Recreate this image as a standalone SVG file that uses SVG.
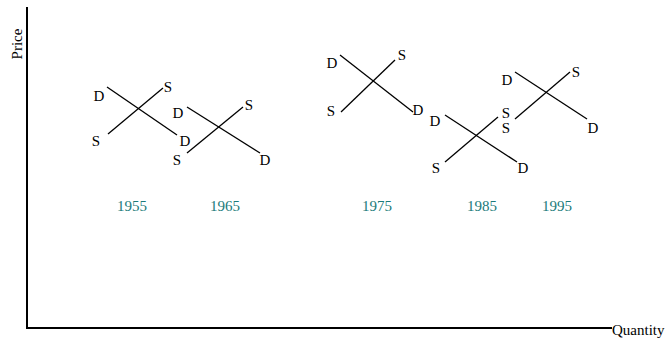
<svg xmlns="http://www.w3.org/2000/svg" width="667" height="343" viewBox="0 0 667 343">
<style>
text{font-family:"Liberation Serif","Times New Roman",serif;font-size:15px;fill:#000}
.lbl{text-anchor:middle}
.yr{text-anchor:middle;fill:#1a7a7a}
.ax{stroke:#000;stroke-width:2;fill:none}
.c{stroke:#000;stroke-width:1.3;fill:none}
</style>
<rect width="667" height="343" fill="#fff"/>
<g id="axes">
<path class="ax" d="M27,7 V328 H612"/>
<text x="612" y="335">Quantity</text>
<text class="lbl" transform="translate(22,44) rotate(-90)">Price</text>
</g>
<g id="connectors">
<line class="c" x1="107" y1="87" x2="177" y2="135"/>
<line class="c" x1="108" y1="134" x2="163" y2="88"/>
<line class="c" x1="187" y1="107" x2="260" y2="153"/>
<line class="c" x1="187" y1="153" x2="243" y2="107"/>
<line class="c" x1="340" y1="55" x2="413" y2="112"/>
<line class="c" x1="341" y1="112" x2="395" y2="60"/>
<line class="c" x1="445" y1="115" x2="517" y2="162"/>
<line class="c" x1="445" y1="162" x2="498" y2="117"/>
<line class="c" x1="515" y1="72" x2="587" y2="119"/>
<line class="c" x1="515" y1="119" x2="570" y2="72"/>
</g>
<g id="n1955">
<text class="lbl" x="99" y="101">D</text>
<text class="lbl" x="168" y="92">S</text>
<text class="lbl" x="96" y="146">S</text>
<text class="lbl" x="185" y="146">D</text>
<text class="yr" x="132" y="211">1955</text>
</g>
<g id="n1965">
<text class="lbl" x="178" y="118">D</text>
<text class="lbl" x="249" y="110">S</text>
<text class="lbl" x="177" y="165">S</text>
<text class="lbl" x="265" y="165">D</text>
<text class="yr" x="225" y="211">1965</text>
</g>
<g id="n1975">
<text class="lbl" x="332" y="68">D</text>
<text class="lbl" x="402" y="60">S</text>
<text class="lbl" x="331" y="116">S</text>
<text class="lbl" x="418" y="115">D</text>
<text class="yr" x="377" y="211">1975</text>
</g>
<g id="n1985">
<text class="lbl" x="435" y="126">D</text>
<text class="lbl" x="506" y="118">S</text>
<text class="lbl" x="436" y="173">S</text>
<text class="lbl" x="523" y="173">D</text>
<text class="yr" x="482" y="211">1985</text>
</g>
<g id="n1995">
<text class="lbl" x="507" y="85">D</text>
<text class="lbl" x="576" y="77">S</text>
<text class="lbl" x="506" y="133">S</text>
<text class="lbl" x="593" y="133">D</text>
<text class="yr" x="557" y="211">1995</text>
</g>
</svg>
